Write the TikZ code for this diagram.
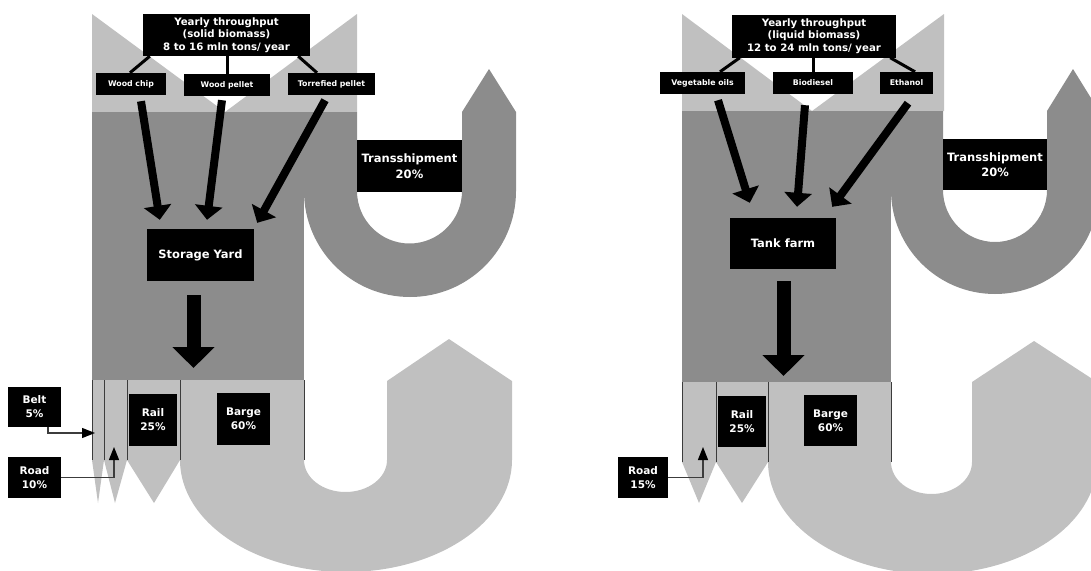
\documentclass[tikz,border=0pt]{standalone}
\usepackage{fontspec}
\setmainfont{DejaVu Sans}
\usetikzlibrary{arrows.meta, positioning, calc}
\definecolor{flowdark}{RGB}{140,140,140}
\definecolor{flowlight}{RGB}{192,192,192}
\definecolor{sepline}{RGB}{60,60,60}

\begin{document}
\begin{tikzpicture}[x=1pt, y=-1pt,
  tag/.style={rectangle, fill=black, text=white, inner sep=0pt, align=center,
    font=\bfseries\fontsize{10.5}{14}\selectfont},
  smalltag/.style={tag, font=\bfseries\fontsize{7.8}{9}\selectfont},
  headtag/.style={tag, font=\bfseries\fontsize{10.2}{12.5}\selectfont},
  bigtag/.style={tag, font=\bfseries\fontsize{11.5}{15.5}\selectfont},
  feed/.style={line width=3pt},
  flow/.style={-{Triangle[length=14pt, width=27pt]}, line width=8pt},
  outflow/.style={-{Triangle[length=21pt, width=41pt]}, line width=14pt},
  pointer/.style={-{Triangle[length=13pt, width=10pt, color=black]}, line width=1.3pt, sepline},
  sep/.style={sepline, line width=1pt}
]
\useasboundingbox (0,0) rectangle (1091,570);
\clip (0,0) rectangle (1091,570);

% ---------------- Solid biomass ----------------
% Bands
\fill[flowlight] (92,14) -- (225,112) -- (357,14) -- (357,112) -- (92,112) -- cycle;
\fill[flowdark] (92,112) rectangle (304,380);
\fill[flowdark] (304,112) -- (304,191) arc[start angle=180, end angle=0, radius=106]
  -- (516,112) -- (489,69) -- (462,112) -- (462,191)
  arc[start angle=0, end angle=180, radius=52.5] -- (357,112) -- cycle;
\fill[flowlight] (92,380) rectangle (304,460);
\fill[flowlight] (92,460) -- (98,503) -- (104,460) -- (115,503) -- (127,460) -- (154,503)
  -- (180,460) arc[start angle=180, end angle=0, x radius=166, y radius=112]
  -- (512,381) -- (449,339) -- (387,381) -- (387,460)
  arc[start angle=0, end angle=180, x radius=41.5, y radius=32] -- cycle;
\foreach \x in {92,104,127,180,304}
  \draw[sep] (\x,380) -- (\x,460);

% Labels
\node[headtag, minimum width=167pt, minimum height=42pt] (thruS) at (226.5,35)
  {Yearly throughput\\(solid biomass)\\8 to 16 mln tons/ year};
\node[smalltag, minimum width=70pt, minimum height=22pt] (chip) at (131,84) {Wood chip};
\node[smalltag, minimum width=86pt, minimum height=22pt] (pellet) at (227,85) {Wood pellet};
\node[smalltag, minimum width=87pt, minimum height=22pt] (torr) at (331.5,84) {Torrefied pellet};
\node[bigtag, minimum width=105pt, minimum height=52pt] (transS) at (409.5,166) {Transshipment\\20\%};
\node[bigtag, minimum width=107pt, minimum height=52pt] (yard) at (200.5,255) {Storage Yard};
\node[tag, minimum width=53pt, minimum height=40pt] (belt) at (34.5,407) {Belt\\5\%};
\node[tag, minimum width=53pt, minimum height=41pt] (roadS) at (34.5,477.5) {Road\\10\%};
\node[tag, minimum width=48pt, minimum height=52pt] (railS) at (153,420) {Rail\\25\%};
\node[tag, minimum width=53pt, minimum height=52pt] (bargeS) at (243.5,419) {Barge\\60\%};

% Connectors
\draw[feed] ([xshift=-1pt]chip.north) -- ([xshift=7pt]thruS.south west);
\draw[feed] (pellet.north) -- (pellet.north |- thruS.south);
\draw[feed] ([xshift=-14.5pt]torr.north) -- ([xshift=-12pt]thruS.south east);
\draw[flow] ([xshift=10pt,yshift=-6pt]chip.south) -- ([xshift=13pt,yshift=9pt]yard.north west);
\draw[flow] ([xshift=-5pt,yshift=-4pt]pellet.south) -- ([xshift=6.5pt,yshift=9pt]yard.north);
\draw[flow] ([xshift=-6.5pt,yshift=-5pt]torr.south) -- ([xshift=3pt,yshift=6pt]yard.north east);
\coordinate (yardout) at (193.5,368);
\draw[outflow] ([xshift=-7pt,yshift=-14pt]yard.south) -- (yardout);
\coordinate (beltin) at (95,433);
\coordinate (roadSin) at (114,447);
\draw[pointer] ([xshift=13.5pt]belt.south) |- (beltin);
\draw[pointer] (roadS.east) -| (roadSin);

% ---------------- Liquid biomass ----------------
% Bands
\fill[flowlight] (682,14) -- (812,111) -- (944,14) -- (944,111) -- (682,111) -- cycle;
\fill[flowdark] (682,111) rectangle (891,382);
\fill[flowdark] (891,111) -- (891,190) arc[start angle=180, end angle=0, radius=104]
  -- (1099,111) -- (1073,69) -- (1047,111) -- (1047,190)
  arc[start angle=0, end angle=180, radius=52] -- (943,111) -- cycle;
\fill[flowlight] (682,382) rectangle (891,462);
\fill[flowlight] (682,462) -- (699,503) -- (716,462) -- (742,503)
  -- (768,462) arc[start angle=180, end angle=0, x radius=164.5, y radius=112]
  -- (1097,382) -- (1034,341) -- (972,382) -- (972,462)
  arc[start angle=0, end angle=180, x radius=40.5, y radius=32] -- cycle;
\foreach \x in {682,716,768,891}
  \draw[sep] (\x,382) -- (\x,462);

% Labels
\node[headtag, minimum width=164pt, minimum height=43pt] (thruL) at (814,36)
  {Yearly throughput\\(liquid biomass)\\12 to 24 mln tons/ year};
\node[smalltag, minimum width=85pt, minimum height=22pt] (veg) at (702.5,83) {Vegetable oils};
\node[smalltag, minimum width=80pt, minimum height=22pt] (bio) at (813,83) {Biodiesel};
\node[smalltag, minimum width=53pt, minimum height=22pt] (eth) at (906.5,83) {Ethanol};
\node[bigtag, minimum width=104pt, minimum height=51pt] (transL) at (995,164.5) {Transshipment\\20\%};
\node[bigtag, minimum width=106pt, minimum height=51pt] (tank) at (783,243.5) {Tank farm};
\node[tag, minimum width=50pt, minimum height=41pt] (roadL) at (643,477.5) {Road\\15\%};
\node[tag, minimum width=48pt, minimum height=51pt] (railL) at (742,421.5) {Rail\\25\%};
\node[tag, minimum width=53pt, minimum height=51pt] (bargeL) at (830.5,420.5) {Barge\\60\%};

% Connectors
\draw[feed] ([xshift=17.5pt]veg.north) -- ([xshift=8pt]thruL.south west);
\draw[feed] (bio.north) -- (bio.north |- thruL.south);
\draw[feed] ([xshift=8.5pt]eth.north) -- ([xshift=-6pt]thruL.south east);
\draw[flow] ([xshift=15.5pt,yshift=-6pt]veg.south) -- ([xshift=20pt,yshift=15pt]tank.north west);
\draw[flow] ([xshift=-8pt,yshift=-11pt]bio.south) -- ([xshift=14pt,yshift=11pt]tank.north);
\draw[flow] ([xshift=1.5pt,yshift=-9pt]eth.south) -- ([xshift=-4pt,yshift=11pt]tank.north east);
\coordinate (tankout) at (783.5,376);
\draw[outflow] ([xshift=0.5pt,yshift=-12pt]tank.south) -- (tankout);
\coordinate (roadLin) at (703,447);
\draw[pointer] (roadL.east) -| (roadLin);
\end{tikzpicture}
\end{document}
